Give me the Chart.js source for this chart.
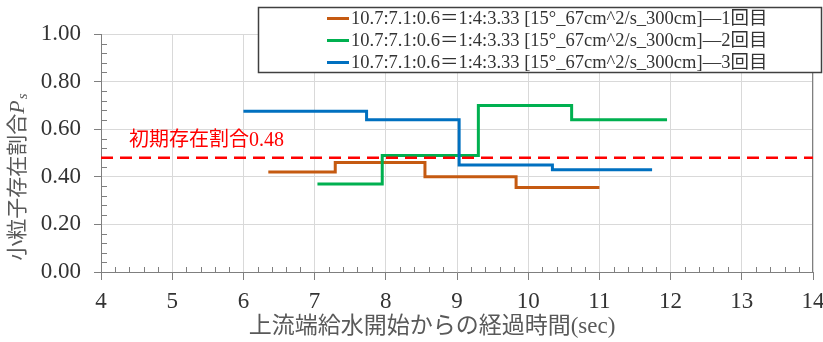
<!DOCTYPE html>
<html>
<head>
<meta charset="utf-8">
<script src="https://cdn.jsdelivr.net/npm/chart.js@4/dist/chart.umd.min.js"></script>
<style>
  html, body { margin: 0; padding: 0; background: #fff; }
  #c { display: block; }
</style>
</head>
<body>
<canvas id="c" width="823" height="342"></canvas>
<script>
// ---- data ----------------------------------------------------------------
const seriesLabels = [
  '10.7:7.1:0.6\uFF1D1:4:3.33 [15\u00B0_67cm^2/s_300cm]\u20141回目',
  '10.7:7.1:0.6\uFF1D1:4:3.33 [15\u00B0_67cm^2/s_300cm]\u20142回目',
  '10.7:7.1:0.6\uFF1D1:4:3.33 [15\u00B0_67cm^2/s_300cm]\u20143回目'
];
// step start times (sec); last entry is where the final step ends
const times1 = [6.35, 7.29, 8.55, 9.83, 11.00];
const ratio1 = [0.42, 0.46, 0.40, 0.355, 0.355];
const times2 = [7.04, 7.95, 9.30, 10.61, 11.95];
const ratio2 = [0.37, 0.49, 0.70, 0.64, 0.64];
const times3 = [6.00, 7.73, 9.03, 10.34, 11.74];
const ratio3 = [0.675, 0.64, 0.45, 0.43, 0.43];

const initialRatio = 0.48;
const initialLabel = '初期存在割合';
const xTickValues = [4, 5, 6, 7, 8, 9, 10, 11, 12, 13, 14];
const yTickValues = [0, 0.2, 0.4, 0.6, 0.8, 1.0];

const xTitle = '上流端給水開始からの経過時間(sec)';
const yTitleMain = '小粒子存在割合';
const yTitleSym = 'P';
const yTitleSub = 's';

// ---- styling -------------------------------------------------------------
const colors = ['#C55A11', '#00B050', '#0070C0'];
const refColor = '#FF0000';
const serif = "'Liberation Serif', 'Noto Sans CJK JP', serif";
const axisColor = '#7f7f7f';
const gridColor = '#d9d9d9';
const textColor = '#333333';

const toPoints = (xs, ys) => xs.map((x, i) => ({ x: x, y: ys[i] }));

const datasets = [
  { label: seriesLabels[0], data: toPoints(times1, ratio1), color: colors[0], order: 3 },
  { label: seriesLabels[1], data: toPoints(times2, ratio2), color: colors[1], order: 2 },
  { label: seriesLabels[2], data: toPoints(times3, ratio3), color: colors[2], order: 1 }
].map(d => ({
  label: d.label,
  data: d.data,
  borderColor: d.color,
  backgroundColor: d.color,
  borderWidth: 3,
  stepped: 'before',
  pointRadius: 0,
  fill: false,
  order: d.order
}));

datasets.push({
  label: 'initial',
  data: [{ x: xTickValues[0], y: initialRatio }, { x: xTickValues[xTickValues.length - 1], y: initialRatio }],
  borderColor: refColor,
  borderWidth: 2.5,
  borderDash: [12, 7],
  pointRadius: 0,
  fill: false,
  order: 0
});

// ---- extra drawing: minor ticks, frame, titles, reference label, legend ---
const decorations = {
  id: 'decorations',
  beforeDatasetsDraw(chart) {
    const { ctx, chartArea: a, scales: { x, y } } = chart;
    ctx.save();
    ctx.strokeStyle = axisColor;
    ctx.lineWidth = 1;
    ctx.beginPath();
    // minor ticks on the y axis (every 0.04), pointing inward
    for (let k = 0; k <= 25; k++) {
      if (k % 5 === 0) continue;
      const py = Math.round(y.getPixelForValue(k * 0.04)) + 0.5;
      ctx.moveTo(a.left, py);
      ctx.lineTo(a.left + 6, py);
    }
    // minor ticks on the x axis (every 0.2 s), pointing inward
    for (let k = 0; k <= 50; k++) {
      if (k % 5 === 0) continue;
      const px = Math.round(x.getPixelForValue(4 + k * 0.2)) + 0.5;
      ctx.moveTo(px, a.bottom);
      ctx.lineTo(px, a.bottom - 5);
    }
    // right frame edge
    const rx = Math.round(a.right) - 0.5;
    ctx.moveTo(rx, a.top);
    ctx.lineTo(rx, a.bottom);
    ctx.stroke();
    ctx.restore();
  },
  afterDraw(chart) {
    const { ctx, scales: { y } } = chart;
    ctx.save();

    // reference label
    ctx.fillStyle = refColor;
    ctx.font = "20px " + serif;
    ctx.textBaseline = 'middle';
    ctx.textAlign = 'left';
    ctx.fillText(initialLabel + initialRatio.toFixed(2), 129, y.getPixelForValue(initialRatio) - 17);

    // x axis title
    ctx.fillStyle = '#595959';
    ctx.font = "23px " + serif;
    ctx.textAlign = 'center';
    ctx.textBaseline = 'middle';
    ctx.fillText(xTitle, 432, 327);

    // y axis title (rotated, with italic P and subscript s)
    const fMain = "21px " + serif;
    const fSym = "italic 22px " + serif;
    const fSub = "italic 15px " + serif;
    ctx.font = fMain; const w1 = ctx.measureText(yTitleMain).width;
    ctx.font = fSym; const w2 = ctx.measureText(yTitleSym).width;
    ctx.font = fSub; const w3 = ctx.measureText(yTitleSub).width;
    const total = w1 + w2 + w3 + 1;
    ctx.translate(18, 177);
    ctx.rotate(-Math.PI / 2);
    ctx.textAlign = 'left';
    ctx.textBaseline = 'middle';
    let cx = -total / 2;
    ctx.font = fMain; ctx.fillText(yTitleMain, cx, 0); cx += w1;
    ctx.font = fSym; ctx.fillText(yTitleSym, cx, 0); cx += w2 + 1;
    ctx.font = fSub; ctx.fillText(yTitleSub, cx, 5);
    ctx.setTransform(1, 0, 0, 1, 0, 0);

    // legend box
    const box = { x: 258.5, y: 7.5, w: 563, h: 65 };
    ctx.fillStyle = '#ffffff';
    ctx.fillRect(box.x, box.y, box.w, box.h);
    ctx.strokeStyle = '#404040';
    ctx.lineWidth = 1.5;
    ctx.strokeRect(box.x, box.y, box.w, box.h);
    ctx.font = "18.5px " + serif;
    ctx.textAlign = 'left';
    ctx.textBaseline = 'middle';
    chart.data.datasets.slice(0, 3).forEach((ds, i) => {
      const ry = 18.5 + i * 22;
      ctx.strokeStyle = ds.borderColor;
      ctx.lineWidth = 3;
      ctx.beginPath();
      ctx.moveTo(327, ry);
      ctx.lineTo(349, ry);
      ctx.stroke();
      ctx.fillStyle = '#333333';
      ctx.fillText(ds.label, 351, ry + 1);
    });
    ctx.restore();
  }
};

new Chart(document.getElementById('c'), {
  type: 'line',
  data: { datasets: datasets },
  options: {
    responsive: false,
    animation: false,
    layout: { padding: { top: 34, right: 10, left: 0, bottom: 0 } },
    plugins: { legend: { display: false }, tooltip: { enabled: false } },
    scales: {
      x: {
        type: 'linear',
        min: xTickValues[0],
        max: xTickValues[xTickValues.length - 1],
        afterBuildTicks: s => { s.ticks = xTickValues.map(v => ({ value: v })); },
        afterFit: s => { s.height = 70; s.paddingLeft = 0; s.paddingRight = 0; },
        ticks: {
          font: { family: serif, size: 23 },
          color: textColor,
          padding: 8,
          maxRotation: 0,
          autoSkip: false,
          callback: v => String(v)
        },
        grid: { color: gridColor, tickColor: axisColor, tickLength: 8, lineWidth: 1 },
        border: { color: axisColor, width: 1 }
      },
      y: {
        type: 'linear',
        min: 0,
        max: 1,
        afterBuildTicks: s => { s.ticks = yTickValues.map(v => ({ value: v })); },
        afterFit: s => { s.width = 101; s.paddingTop = 0; s.paddingBottom = 0; },
        ticks: {
          font: { family: serif, size: 23 },
          color: textColor,
          padding: 13,
          callback: v => Number(v).toFixed(2)
        },
        grid: { color: gridColor, tickColor: axisColor, tickLength: 7, lineWidth: 1 },
        border: { color: axisColor, width: 1 }
      }
    }
  },
  plugins: [decorations]
});
</script>
</body>
</html>
